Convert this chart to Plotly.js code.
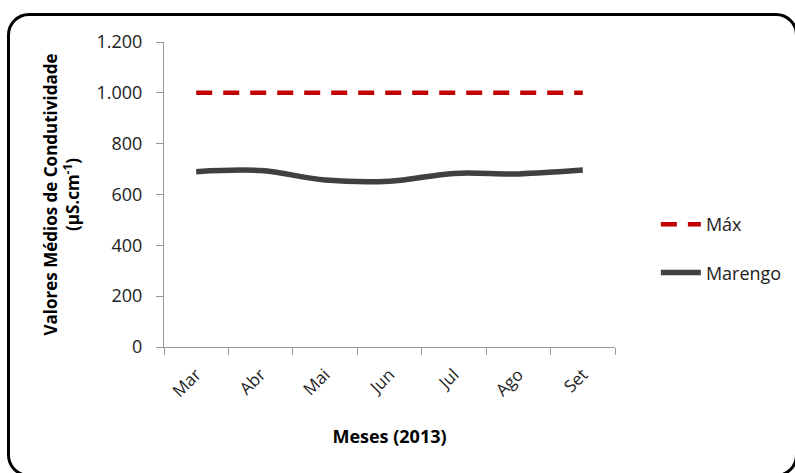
<!DOCTYPE html>
<html>
<head>
<meta charset="utf-8">
<script src="https://cdn.plot.ly/plotly-3.0.1.min.js"></script>
<style>
  html, body { margin: 0; padding: 0; background: #fff; }
  #wrap { position: relative; width: 795px; height: 473px; overflow: hidden; }
  #chart { position: absolute; left: 0; top: 0; width: 795px; height: 473px; }
  #frame {
    position: absolute; left: 7px; top: 13px; width: 791px; height: 464px;
    border: 3px solid #000; border-radius: 22px; box-sizing: border-box;
    pointer-events: none;
  }
</style>
</head>
<body>
<div id="wrap">
  <div id="chart"></div>
  <div id="frame"></div>
</div>
<script>
// Monthly mean conductivity (µS/cm), 2013
const months = ['Mar', 'Abr', 'Mai', 'Jun', 'Jul', 'Ago', 'Set'];
const maxLimit = [1000, 1000, 1000, 1000, 1000, 1000, 1000];
const marengo = [690, 694, 657, 652, 683, 681, 696];
const yTicks = [0, 200, 400, 600, 800, 1000, 1200];

const font = 'Open Sans, Liberation Sans, sans-serif';

const traces = [
  {
    x: months, y: maxLimit, name: 'Máx', type: 'scatter', mode: 'lines',
    legendgroup: 'max',
    line: { color: '#c00000', width: 4.5, dash: '16px,11px' }
  },
  {
    x: months, y: marengo, name: 'Marengo', type: 'scatter', mode: 'lines',
    legendgroup: 'marengo',
    line: { color: '#404040', width: 5.5, shape: 'spline', smoothing: 1 }
  }
];

const layout = {
  width: 795, height: 473,
  margin: { l: 164, r: 180, t: 42, b: 126 },
  paper_bgcolor: 'rgba(0,0,0,0)', plot_bgcolor: 'rgba(0,0,0,0)',
  separators: ',.',
  showlegend: true,
  font: { family: font, color: '#222' },
  xaxis: {
    type: 'category',
    range: [-0.5, 6.5],
    tickson: 'boundaries',
    ticks: 'outside', ticklen: 7, tickcolor: '#999', tickwidth: 1,
    showline: true, linecolor: '#999', linewidth: 1,
    showgrid: false, zeroline: false,
    tickangle: -45,
    ticklabelstandoff: 10,
    tickfont: { size: 17, color: '#222', family: font },
    title: { text: '<b>Meses (2013)</b>', font: { size: 18, color: '#000', family: font }, standoff: 29 }
  },
  yaxis: {
    range: [0, 1200],
    tickvals: yTicks,
    tickformat: ',d',
    ticks: 'outside', ticklen: 7, tickcolor: '#999', tickwidth: 1,
    showline: true, linecolor: '#999', linewidth: 1,
    showgrid: false, zeroline: false,
    ticklabelstandoff: 10,
    tickfont: { size: 18, color: '#222', family: font },
    title: {
      text: '<b>Valores Médios de Condutividade<br>(µS.cm<sup>-1</sup>)</b>',
      font: { size: 17, color: '#000', family: font }, standoff: 12
    }
  },
  legend: {
    xref: 'container', yref: 'container',
    x: 0.825, xanchor: 'left', y: 0.5645, yanchor: 'top',
    traceorder: 'grouped',
    font: { size: 18, color: '#222', family: font },
    tracegroupgap: 22, itemwidth: 40
  }
};

Plotly.newPlot('chart', traces, layout, { displayModeBar: false, staticPlot: true });
</script>
</body>
</html>
